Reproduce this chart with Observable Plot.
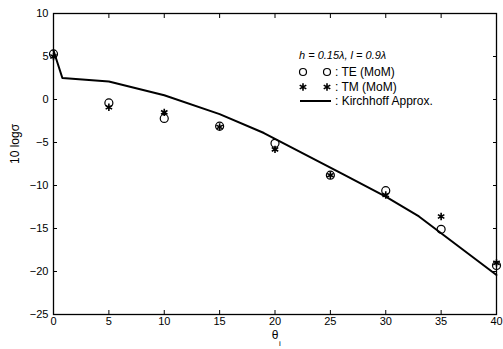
<!DOCTYPE html>
<html>
<head>
<meta charset="utf-8">
<script src="https://cdn.jsdelivr.net/npm/d3@7"></script>
<script src="https://cdn.jsdelivr.net/npm/@observablehq/plot@0.6"></script>
<style>
  html, body { margin: 0; padding: 0; background: white; }
  #chart { position: relative; width: 503px; height: 349px; }
</style>
</head>
<body>
<div id="chart"></div>
<script>
// Incidence angle (degrees) for MoM samples
const theta = [0, 5, 10, 15, 20, 25, 30, 35, 40];
// TE (MoM) values, 10 log sigma
const teValues = [5.3, -0.4, -2.2, -3.1, -5.1, -8.8, -10.6, -15.1, -19.3];
// TM (MoM) values
const tmValues = [5.0, -0.9, -1.5, -3.2, -5.8, -8.8, -11.1, -13.6, -19.0];
// Kirchhoff approximation curve
const kirchTheta = [0, 0.8, 5, 10, 15, 19, 26, 30, 33, 40];
const kirchValues = [5.7, 2.5, 2.1, 0.5, -1.7, -3.9, -8.6, -11.3, -13.6, -20.4];
// Axis ticks
const xTicks = [0, 5, 10, 15, 20, 25, 30, 35, 40];
const yTicks = [10, 5, 0, -5, -10, -15, -20, -25];
// Texts
const xLabel = "θ";
const xLabelSub = "i";
const yLabel = "10 logσ";
const legendTitle = "h = 0.15λ, l = 0.9λ";
const legendLabels = [": TE (MoM)", ": TM (MoM)", ": Kirchhoff Approx."];

const te = theta.map((t, i) => ({x: t, y: teValues[i]}));
const tm = theta.map((t, i) => ({x: t, y: tmValues[i]}));
const kirch = kirchTheta.map((t, i) => ({x: t, y: kirchValues[i]}));

const font = "'Liberation Sans', Arial, sans-serif";
const blank = () => "";

const chart = Plot.plot({
  width: 503,
  height: 349,
  marginLeft: 53,
  marginRight: 7,
  marginTop: 13,
  marginBottom: 35,
  style: {fontFamily: font, fontSize: "11px", background: "white", color: "black", overflow: "visible"},
  x: {domain: [0, 40]},
  y: {domain: [-25, 10]},
  marks: [
    // tick labels
    Plot.axisX({ticks: xTicks, tickSize: 0, tickPadding: 3, label: null, fontSize: 11}),
    Plot.axisY({ticks: yTicks, tickSize: 0, tickPadding: 5, label: null, fontSize: 11}),
    // inward tick marks on all four sides
    Plot.axisX({ticks: xTicks, tickSize: 4, dy: -4, tickFormat: blank, label: null}),
    Plot.axisX({anchor: "top", ticks: xTicks, tickSize: 4, dy: 4, tickFormat: blank, label: null}),
    Plot.axisY({ticks: yTicks, tickSize: 4, dx: 4, tickFormat: blank, label: null}),
    Plot.axisY({anchor: "right", ticks: yTicks, tickSize: 4, dx: -4, tickFormat: blank, label: null}),
    Plot.frame({stroke: "black", strokeWidth: 1.3}),
    Plot.line(kirch, {x: "x", y: "y", stroke: "black", strokeWidth: 2}),
    Plot.dot(te, {x: "x", y: "y", r: 4, stroke: "black", strokeWidth: 1.2, fill: "none"}),
    Plot.dot(tm, {x: "x", y: "y", symbol: "asterisk", r: 3.5, stroke: "black", strokeWidth: 1.6}),
    Plot.text([xLabel], {frameAnchor: "bottom", dy: 24, text: d => d, fontSize: 12, fill: "black"}),
    Plot.text([xLabelSub], {frameAnchor: "bottom", dx: 5, dy: 31, text: d => d, fontSize: 8, fill: "black"}),
    Plot.text([yLabel], {frameAnchor: "left", dx: -38, rotate: -90, text: d => d, fontSize: 12, fill: "black"})
  ]
});

// Legend group inside the plot area
const svg = d3.select(chart);
const g = svg.append("g").attr("font-family", font).attr("fill", "black").attr("text-anchor", "start");
g.append("text").attr("x", 299).attr("y", 59).attr("font-size", 11).attr("font-style", "italic").text(legendTitle);
const rowsY = [72, 87, 101];
// TE row
[303, 327].forEach(cx => g.append("circle").attr("cx", cx).attr("cy", rowsY[0]).attr("r", 3.5).attr("fill", "none").attr("stroke", "black").attr("stroke-width", 1.2));
// TM row
const star = d3.symbol(d3.symbolAsterisk, 40)();
[303, 327].forEach(cx => g.append("path").attr("d", star).attr("transform", `translate(${cx},${rowsY[1]})`).attr("stroke", "black").attr("stroke-width", 1.6).attr("fill", "none"));
// Kirchhoff row
g.append("line").attr("x1", 300).attr("x2", 331).attr("y1", rowsY[2]).attr("y2", rowsY[2]).attr("stroke", "black").attr("stroke-width", 2);
legendLabels.forEach((t, i) => g.append("text").attr("x", 335).attr("y", rowsY[i] + 4).attr("font-size", 12).text(t));

document.getElementById("chart").appendChild(chart);
</script>
</body>
</html>
